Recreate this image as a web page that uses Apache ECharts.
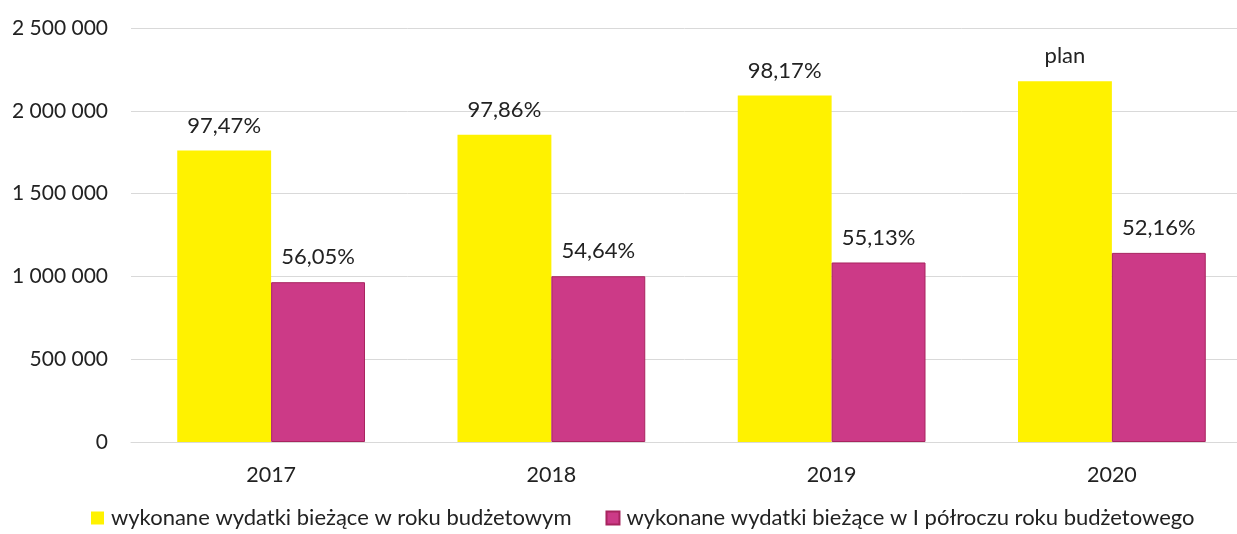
<!DOCTYPE html>
<html>
<head>
<meta charset="utf-8">
<script src="https://cdn.jsdelivr.net/npm/echarts@6/dist/echarts.min.js"></script>
<style>
  html, body { margin: 0; padding: 0; background: #fff; }
  #chart { width: 1237px; height: 534px; }
</style>
</head>
<body>
<div id="chart"></div>
<script>
// dane
var years = ['2017', '2018', '2019', '2020'];
var annualSpending = [1760000, 1855000, 2092000, 2179000];
var halfYearSpending = [965000, 1001000, 1084000, 1142000];
var annualLabels = ['97,47%', '97,86%', '98,17%', 'plan'];
var halfYearLabels = ['56,05%', '54,64%', '55,13%', '52,16%'];
var seriesNames = [
  'wykonane wydatki bieżące w roku budżetowym',
  'wykonane wydatki bieżące w I półroczu roku budżetowego'
];

var font = 'Lato, "Open Sans", sans-serif';

function formatThousands(v) {
  return String(v).replace(/\B(?=(\d{3})+(?!\d))/g, ' ');
}

var chart = echarts.init(document.getElementById('chart'), null, { renderer: 'canvas' });

var option = {
  animation: false,
  textStyle: { fontFamily: font },
  // obszar wykresu wychodzi poza prawą krawędź (jak w oryginale)
  grid: { left: 131, width: 1121, top: 28, bottom: 92, outerBoundsMode: 'none' },
  legend: {
    bottom: 0,
    left: 86,
    itemWidth: 13,
    itemHeight: 13,
    itemGap: 34,
    icon: 'rect',
    textStyle: { fontSize: 22, color: '#222', fontFamily: font, padding: [0, 0, 0, 2] },
    data: seriesNames
  },
  xAxis: {
    type: 'category',
    data: years,
    axisTick: { show: false },
    axisLine: { lineStyle: { color: '#d9d9d9' } },
    axisLabel: { fontSize: 21.5, color: '#222', margin: 22 }
  },
  yAxis: {
    type: 'value',
    min: 0,
    max: 2500000,
    interval: 500000,
    axisLine: { show: false },
    axisTick: { show: false },
    splitLine: { lineStyle: { color: '#d9d9d9' } },
    axisLabel: {
      fontSize: 21,
      color: '#222',
      margin: 23,
      formatter: formatThousands
    }
  },
  series: [
    {
      name: seriesNames[0],
      type: 'bar',
      data: annualSpending,
      barGap: '0%',
      barCategoryGap: '33%',
      itemStyle: { color: '#fff200' },
      label: {
        show: true,
        position: 'top',
        distance: 14,
        fontSize: 22,
        color: '#222',
        formatter: function (p) { return annualLabels[p.dataIndex]; }
      }
    },
    {
      name: seriesNames[1],
      type: 'bar',
      data: halfYearSpending,
      itemStyle: { color: '#cc3a87', borderColor: '#a8245f', borderWidth: 1 },
      label: {
        show: true,
        position: 'top',
        distance: 14,
        fontSize: 22,
        color: '#222',
        formatter: function (p) { return halfYearLabels[p.dataIndex]; }
      }
    }
  ]
};

chart.setOption(option);
</script>
</body>
</html>
